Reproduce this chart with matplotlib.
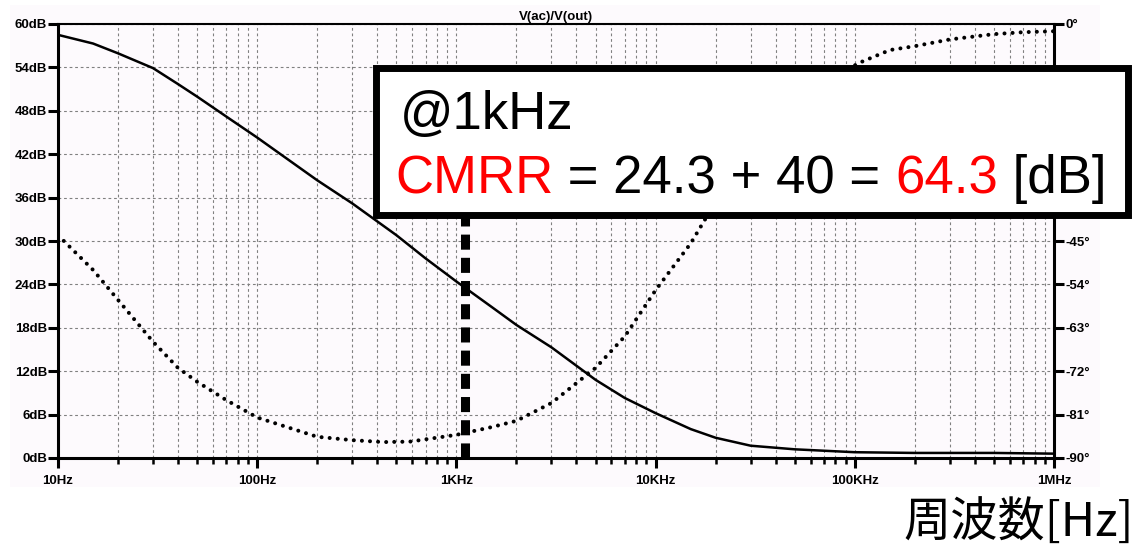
import matplotlib
matplotlib.use('Agg')
import matplotlib.pyplot as plt
from matplotlib.patches import Rectangle
from matplotlib.text import Annotation
from matplotlib.ticker import FixedLocator, NullFormatter

# frequency points [Hz]
freq_mag = [10, 15, 20, 30, 40, 50, 70, 100, 200, 300, 500, 700, 1000, 1500,
            2000, 3000, 5000, 7000, 10000, 15000, 20000, 30000, 50000, 100000,
            200000, 500000, 1000000]
# |V(ac)/V(out)| [dB]
mag_db = [58.5, 57.3, 55.95, 53.9, 51.7, 49.95, 47.2, 44.3, 38.4, 35.2, 30.8,
          27.6, 24.4, 20.9, 18.4, 15.3, 10.8, 8.3, 6.2, 4.0, 2.8, 1.7, 1.2,
          0.8, 0.7, 0.7, 0.6]

freq_ph = [10, 15, 20, 30, 40, 50, 70, 100, 200, 300, 430, 585, 1000, 1500,
           2000, 3000, 5000, 7000, 10000, 15000, 20000, 30000, 50000, 70000,
           106000, 150000, 200000, 300000, 500000, 700000, 1000000]
# phase [deg]
phase_deg = [-43.8, -51.0, -57.2, -65.9, -71.3, -74.2, -78.0, -81.6, -85.6,
             -86.3, -86.7, -86.6, -85.2, -83.6, -82.3, -78.6, -71.3, -64.8,
             -55.2, -45.5, -36.9, -26.6, -16.7, -12.1, -8.0, -5.4, -4.6, -3.2,
             -2.1, -1.7, -1.5]

x_ticks = [10, 100, 1000, 10000, 100000, 1000000]
x_labels = ['10Hz', '100Hz', '1KHz', '10KHz', '100KHz', '1MHz']
db_ticks = list(range(0, 61, 6))
db_labels = [f'{v}dB' for v in db_ticks]
ph_ticks = list(range(-90, 1, 9))
# -9..-36 sit under the annotation box
ph_labels = [f'{v}°' if (v <= -45 or v == 0) else '' for v in ph_ticks]
marker_freq = 1100

W, H = 1136, 553
plt.rcParams['font.family'] = ['Liberation Sans', 'DejaVu Sans']

fig = plt.figure(figsize=(W / 100, H / 100), dpi=100)
fig.patch.set_facecolor('white')
fig.add_artist(Rectangle((10 / W, 1 - 487 / H), 1090 / W, 482 / H,
                         transform=fig.transFigure, facecolor='#fdfafd',
                         edgecolor='none', zorder=-5))

ax = fig.add_axes([58 / W, 1 - 458 / H, 996 / W, 434 / H])
ax.set_facecolor('none')
ax.set_xscale('log')
ax.set_xlim(10, 1e6)
ax.set_ylim(0, 60)

ax.xaxis.set_major_locator(FixedLocator(x_ticks))
ax.set_xticklabels(x_labels)
minors = [m * 10 ** e for e in range(1, 6) for m in range(2, 10)]
ax.xaxis.set_minor_locator(FixedLocator(minors))
ax.xaxis.set_minor_formatter(NullFormatter())
ax.set_yticks(db_ticks)
ax.set_yticklabels(db_labels)

grid_kw = dict(color='#808080', lw=0.8, linestyle=(0, (2.5, 2.5)))
ax.grid(which='both', axis='x', **grid_kw)
ax.grid(which='major', axis='y', **grid_kw)

ax.tick_params(axis='both', which='major', length=7, width=2.2, pad=1,
               labelsize=9.5, direction='out')
ax.tick_params(axis='x', which='major', pad=5)
ax.tick_params(axis='x', which='minor', length=4, width=1.8, direction='out')
for lab in ax.get_xticklabels() + ax.get_yticklabels():
    lab.set_fontweight('bold')
for s in ['left', 'bottom']:
    ax.spines[s].set_linewidth(2.2)
ax.spines['top'].set_linewidth(1.5)
ax.spines['right'].set_visible(False)

ax.plot(freq_mag, mag_db, color='black', lw=1.8, zorder=3)
# marker line runs from the axis up to the box
ax.axvline(marker_freq, ymin=0, ymax=0.56, color='black', lw=6.5,
           linestyle=(0, (1.67, 0.9)), zorder=4)

ax.set_title('V(ac)/V(out)', fontsize=9.5, fontweight='bold', pad=3)

ax2 = ax.twinx()
ax2.set_ylim(-90, 0)
ax2.set_yticks(ph_ticks)
ax2.set_yticklabels(ph_labels)
ax2.tick_params(axis='y', length=7, width=2.2, pad=1, labelsize=9.5)
for lab in ax2.get_yticklabels():
    lab.set_fontweight('bold')
ax2.spines['right'].set_linewidth(2.2)
for s in ['left', 'top', 'bottom']:
    ax2.spines[s].set_visible(False)
ax2.plot(freq_ph, phase_deg, color='black', lw=2.9,
         linestyle=(0, (0.01, 2.0)), dash_capstyle='round', zorder=3)

# annotation box
fig.add_artist(Rectangle((375.5 / W, 1 - 214.5 / H), 752 / W, 147 / H,
                         transform=fig.transFigure, facecolor='white',
                         edgecolor='black', lw=5, zorder=10))
fs = 38
fig.text(400 / W, 1 - 129 / H, '@1kHz', fontsize=fs, va='baseline',
         ha='left', zorder=11)
parts = [('CMRR', 'red'), (' = 24.3 + 40 = ', 'black'), ('64.3', 'red'),
         (' [dB]', 'black')]
last = fig.text(395 / W, 1 - 193 / H, parts[0][0], color=parts[0][1],
                fontsize=fs, va='baseline', ha='left', zorder=11)
for txt, col in parts[1:]:
    last = fig.add_artist(Annotation(txt, xy=(1, 0), xycoords=last,
                                     va='bottom', ha='left', fontsize=fs,
                                     color=col, zorder=11))

fig.text(1134 / W, 1 - 524 / H, '周波数[Hz]', fontsize=34, ha='right',
         va='center', family=['Noto Sans CJK JP', 'DejaVu Sans'])

fig.savefig('out.png', dpi=100)
